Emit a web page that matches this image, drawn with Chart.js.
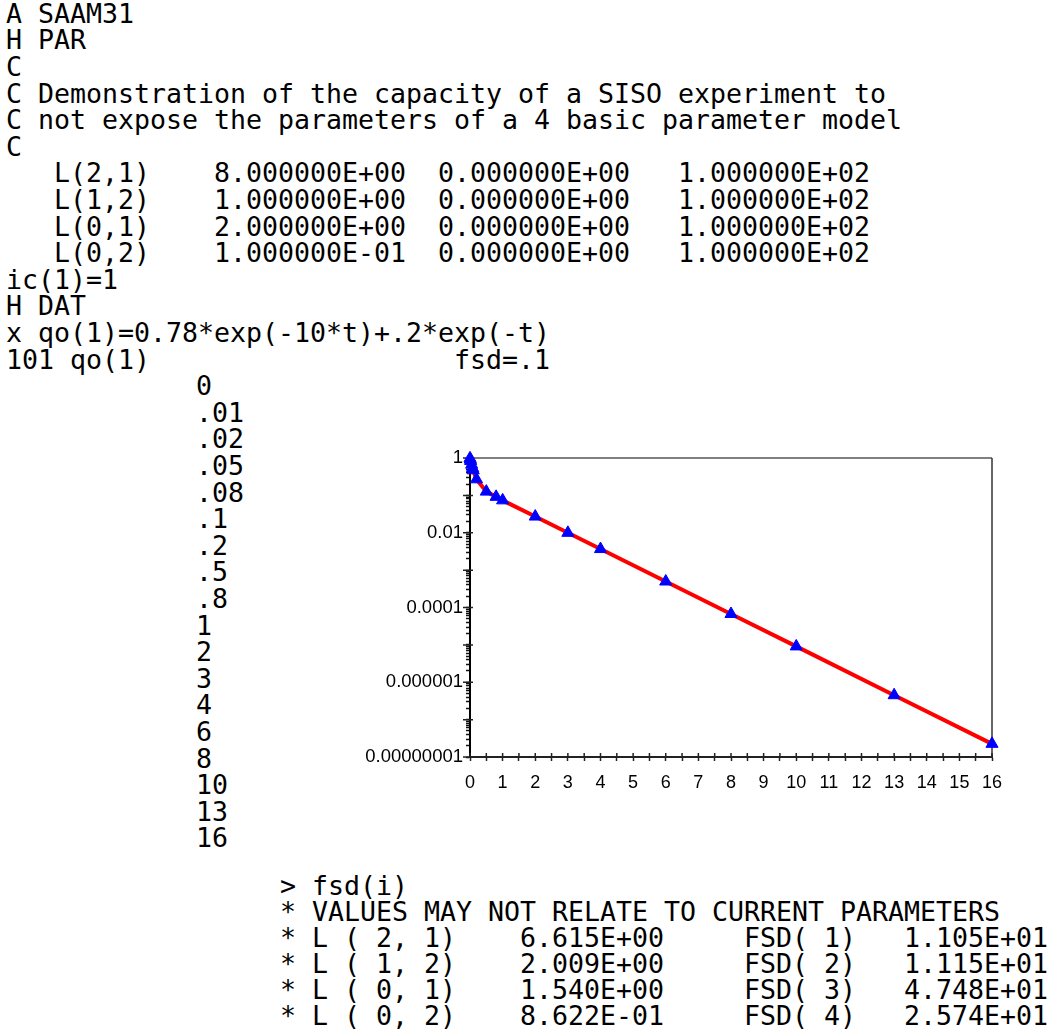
<!DOCTYPE html>
<html><head><meta charset="utf-8">
<script src="https://cdn.jsdelivr.net/npm/chart.js@4.4.1/dist/chart.umd.min.js"></script>
<style>
html,body{margin:0;padding:0;background:#fff;}
body{width:1061px;height:1029px;position:relative;overflow:hidden;}
.blk{position:absolute;margin:0;font-family:'DejaVu Sans Mono',monospace;font-size:26.58px;white-space:pre;color:#000;}
#blockA{left:6px;top:0.8px;line-height:26.6px;}
#blockB{left:196px;top:373.2px;line-height:26.6px;}
#blockC{left:280px;top:872.5px;line-height:26px;}
#chartWrap{position:absolute;left:350px;top:440px;width:680px;height:360px;}
</style></head><body>
<pre id="blockA" class="blk"></pre>
<pre id="blockB" class="blk"></pre>
<pre id="blockC" class="blk"></pre>
<div id="chartWrap"><canvas id="c" width="680" height="360"></canvas></div>
<script>
// ---- text content ----
const headerLines = [
  'A SAAM31',
  'H PAR',
  'C',
  'C Demonstration of the capacity of a SISO experiment to',
  'C not expose the parameters of a 4 basic parameter model',
  'C'
];
const paramNames = ['L(2,1)', 'L(1,2)', 'L(0,1)', 'L(0,2)'];
const paramValues = ['8.000000E+00', '1.000000E+00', '2.000000E+00', '1.000000E-01'];
const paramLower = ['0.000000E+00', '0.000000E+00', '0.000000E+00', '0.000000E+00'];
const paramUpper = ['1.000000E+02', '1.000000E+02', '1.000000E+02', '1.000000E+02'];
const dataLines = [
  'ic(1)=1',
  'H DAT',
  'x qo(1)=0.78*exp(-10*t)+.2*exp(-t)',
  '101 qo(1)                   fsd=.1'
];
const timeLabels = ['0', '.01', '.02', '.05', '.08', '.1', '.2', '.5', '.8', '1', '2', '3', '4', '6', '8', '10', '13', '16'];
const resultHeader = ['> fsd(i)', '* VALUES MAY NOT RELATE TO CURRENT PARAMETERS'];
const resultNames = ['* L ( 2, 1)', '* L ( 1, 2)', '* L ( 0, 1)', '* L ( 0, 2)'];
const resultEstimates = ['6.615E+00', '2.009E+00', '1.540E+00', '8.622E-01'];
const resultFsdNames = ['FSD( 1)', 'FSD( 2)', 'FSD( 3)', 'FSD( 4)'];
const resultFsdValues = ['1.105E+01', '1.115E+01', '4.748E+01', '2.574E+01'];

// ---- chart data ----
const times = [0, 0.01, 0.02, 0.05, 0.08, 0.1, 0.2, 0.5, 0.8, 1, 2, 3, 4, 6, 8, 10, 13, 16];
const observed = [0.98, 0.905, 0.835, 0.663, 0.54, 0.468, 0.269, 0.126, 0.0914, 0.0736, 0.0271, 0.00996, 0.00366, 0.000496, 0.0000671, 0.0000091, 0.00000045, 0.0000000225];
const fitted = [0.98, 0.905, 0.835, 0.663, 0.54, 0.468, 0.269, 0.126, 0.0914, 0.0736, 0.0271, 0.00996, 0.00366, 0.000496, 0.0000671, 0.0000091, 0.00000045, 0.0000000225];
const yLabelValues = [1, 1e-2, 1e-4, 1e-6, 1e-8];
const yLabelTexts = ['1', '0.01', '0.0001', '0.000001', '0.00000001'];
const xLabelValues = [0, 1, 2, 3, 4, 5, 6, 7, 8, 9, 10, 11, 12, 13, 14, 15, 16];
const xLabelTexts = ['0', '1', '2', '3', '4', '5', '6', '7', '8', '9', '10', '11', '12', '13', '14', '15', '16'];

// ---- build text blocks ----
const pad = (s, n) => s + ' '.repeat(Math.max(0, n - s.length));
const paramLines = paramNames.map((n, i) =>
  '   ' + pad(n, 10) + pad(paramValues[i], 14) + pad(paramLower[i], 15) + paramUpper[i]);
document.getElementById('blockA').textContent = headerLines.concat(paramLines, dataLines).join('\n');
document.getElementById('blockB').textContent = timeLabels.join('\n');
const resLines = resultNames.map((n, i) =>
  pad(n, 15) + pad(resultEstimates[i], 14) + pad(resultFsdNames[i], 10) + resultFsdValues[i]);
document.getElementById('blockC').textContent = resultHeader.concat(resLines).join('\n');

// ---- chart ----
const yTickList = [];
for (let e = -8; e <= 0; e++) {
  for (let m = 1; m <= 9; m++) {
    const v = m * Math.pow(10, e);
    if (v <= 1.0000001) yTickList.push(v);
  }
}
const yDecades = [1e-8, 1e-7, 1e-6, 1e-5, 1e-4, 1e-3, 1e-2, 1e-1, 1];
const xTickList = [];
for (let v = 0; v <= 16; v += 0.5) xTickList.push(v);

function yLabel(v) {
  for (let i = 0; i < yLabelValues.length; i++) {
    if (Math.abs(Math.log10(v) - Math.log10(yLabelValues[i])) < 1e-6) return yLabelTexts[i];
  }
  return '';
}
function xLabel(v) {
  const i = xLabelValues.indexOf(v);
  return i >= 0 ? xLabelTexts[i] : '';
}

const framePlugin = {
  id: 'frame',
  beforeDatasetsDraw(chart) {
    const {ctx, chartArea: a} = chart;
    ctx.save();
    ctx.strokeStyle = '#808080';
    ctx.lineWidth = 2;
    ctx.beginPath(); ctx.moveTo(a.left, a.top); ctx.lineTo(a.right, a.top); ctx.stroke();
    ctx.strokeStyle = '#333333';
    ctx.lineWidth = 1.5;
    ctx.beginPath(); ctx.moveTo(a.right, a.top); ctx.lineTo(a.right, a.bottom); ctx.stroke();
    // tick segments crossing the axes
    const xs = chart.scales.x, ys = chart.scales.y;
    ctx.strokeStyle = '#222';
    ctx.lineWidth = 1.5;
    ctx.beginPath();
    xTickList.forEach(v => {
      const px = xs.getPixelForValue(v);
      ctx.moveTo(px, a.bottom); ctx.lineTo(px, a.bottom - 4);
    });
    yDecades.forEach(v => {
      const py = ys.getPixelForValue(v);
      ctx.moveTo(a.left - 7, py); ctx.lineTo(a.left + 3, py);
    });
    ctx.stroke();
    ctx.restore();
  }
};

const tickFont = {family: "'Liberation Sans', Arial, sans-serif", size: 18.5};

new Chart(document.getElementById('c').getContext('2d'), {
  type: 'scatter',
  data: {
    datasets: [
      {
        label: 'fit',
        data: times.map((t, i) => ({x: t, y: fitted[i]})),
        showLine: true,
        borderColor: '#ff0000',
        borderWidth: 4,
        pointRadius: 0,
        fill: false,
        tension: 0,
        clip: false,
        order: 2
      },
      {
        label: 'qo(1)',
        data: times.map((t, i) => ({x: t, y: observed[i]})),
        pointStyle: 'triangle',
        pointRadius: 7,
        backgroundColor: '#0000ff',
        borderColor: '#0000ff',
        borderWidth: 1,
        clip: false,
        order: 1
      }
    ]
  },
  options: {
    responsive: false,
    animation: false,
    devicePixelRatio: 1,
    layout: {padding: {left: 0, top: 18, right: 38, bottom: 8}},
    plugins: {legend: {display: false}, tooltip: {enabled: false}},
    scales: {
      x: {
        type: 'linear', min: 0, max: 16,
        afterBuildTicks: s => { s.ticks = xTickList.map(v => ({value: v})); },
        afterFit: s => { s.height = 35; },
        ticks: {autoSkip: false, maxRotation: 0, padding: 11, color: '#000', font: {family: "'Liberation Sans', Arial, sans-serif", size: 18}, callback: v => xLabel(v)},
        grid: {drawOnChartArea: false, tickLength: 4, tickColor: '#222', tickWidth: 1.5},
        border: {color: '#222', width: 2}
      },
      y: {
        type: 'logarithmic', min: 1e-8, max: 1,
        afterBuildTicks: s => { s.ticks = yTickList.map(v => ({value: v})); },
        afterFit: s => { s.width = 120; },
        ticks: {autoSkip: false, padding: 3, color: '#000', font: tickFont, callback: v => yLabel(v)},
        grid: {drawOnChartArea: false, tickLength: 4, tickColor: '#111', tickWidth: 1.5},
        border: {color: '#000', width: 2}
      }
    }
  },
  plugins: [framePlugin]
});
</script>
</body></html>
